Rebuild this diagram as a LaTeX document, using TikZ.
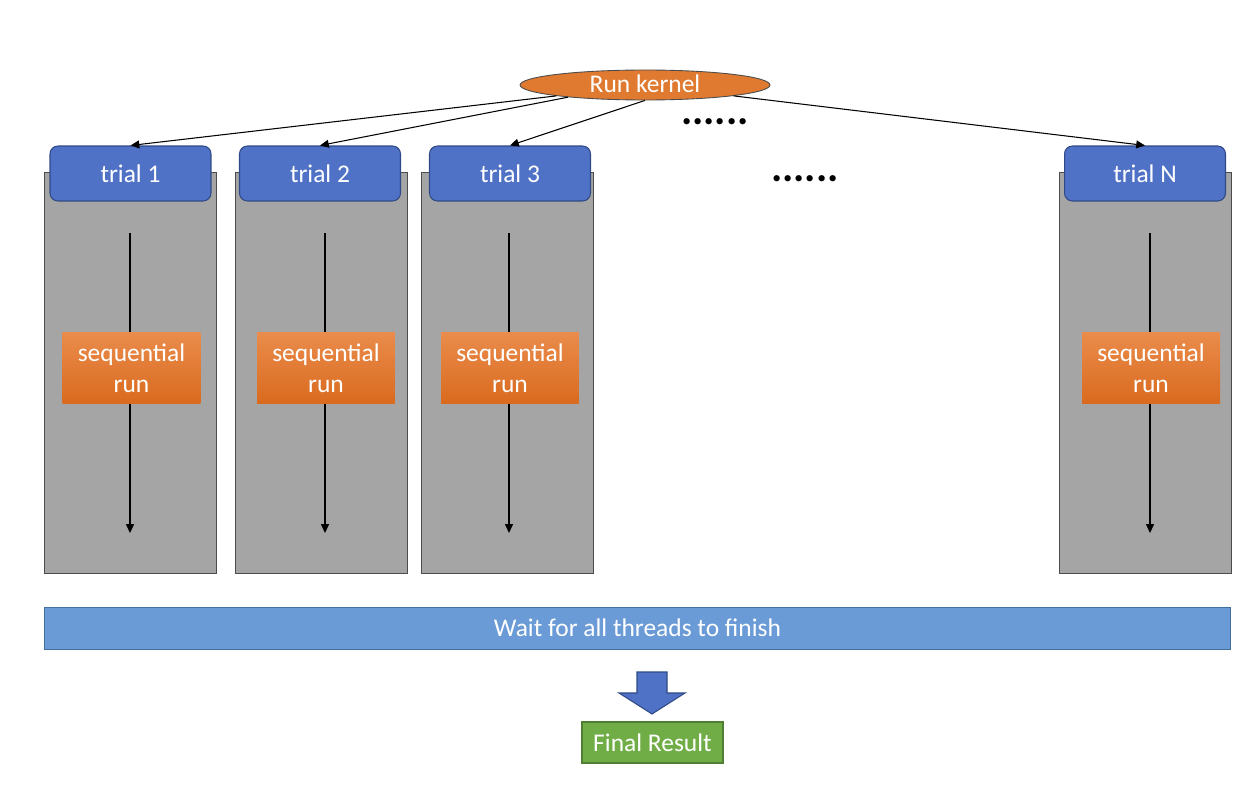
\documentclass[tikz,border=0pt]{standalone}
\usepackage{fontspec}
\setmainfont{Carlito}
\usetikzlibrary{arrows.meta, positioning, shapes.geometric}
\definecolor{trialblue}{HTML}{4F71C6}
\definecolor{trialedge}{HTML}{2F4A86}
\definecolor{kernelorange}{HTML}{E07A30}
\definecolor{seqtop}{HTML}{EA8C4C}
\definecolor{seqbot}{HTML}{D96A1E}
\definecolor{colgray}{HTML}{A5A5A5}
\definecolor{waitblue}{HTML}{6A9BD6}
\definecolor{waitedge}{HTML}{41719C}
\definecolor{finalgreen}{HTML}{70AD47}
\definecolor{finaledge}{HTML}{507E32}

\begin{document}
\begin{tikzpicture}[
  x=0.02cm, y=-0.02cm,
  column/.style={draw=black!70, fill=colgray, line width=0.5pt,
                 minimum width=3.44cm, minimum height=8.02cm},
  trial/.style={draw=trialedge, fill=trialblue, rounded corners=4.5pt, line width=0.6pt,
                minimum width=3.22cm, minimum height=1.1cm, text=white,
                font=\fontsize{14.5}{16}\selectfont},
  seqbox/.style={top color=seqtop, bottom color=seqbot, minimum width=2.76cm,
                 minimum height=1.44cm, text=white, align=center,
                 font=\fontsize{14.5}{17.5}\selectfont},
  arr/.style={-{Triangle[length=5pt, width=4.5pt]}, line width=0.6pt}
]
  \useasboundingbox (0,0) rectangle (1251,794);

  % Kernel
  \node[ellipse, draw=black!70, fill=kernelorange, line width=0.5pt, inner sep=0pt,
        minimum width=5cm, minimum height=0.6cm, text height=10pt, text depth=1pt,
        text=white, font=\fontsize{14.5}{16}\selectfont] (kernel) at (645,85) {Run kernel};

  % Columns
  \node[column] (col1) at (130,372.5) {};
  \node[column] (col2) at (321,372.5) {};
  \node[column] (col3) at (507.5,372.5) {};
  \node[column] (colN) at (1145.5,372.5) {};

  % Trials
  \node[trial] (trial1) at (130.5,173.5) {trial 1};
  \node[trial] (trial2) at (320,173.5) {trial 2};
  \node[trial] (trial3) at (510,173.5) {trial 3};
  \node[trial] (trialN) at (1145,173.5) {trial N};

  % Dots
  \node[anchor=base, font=\fontsize{24}{24}\bfseries] (dots1) at (715,125) {......};
  \node[anchor=base, font=\fontsize{24}{24}\bfseries] (dots2) at (805,181) {......};

  % Flow inside columns
  \coordinate (run1top) at (130,233);  \coordinate (run1end) at (130,533);
  \coordinate (run2top) at (325,233);  \coordinate (run2end) at (325,533);
  \coordinate (run3top) at (509,233);  \coordinate (run3end) at (509,533);
  \coordinate (runNtop) at (1150,233); \coordinate (runNend) at (1150,533);
  \draw[arr] (run1top) -- (run1end);
  \draw[arr] (run2top) -- (run2end);
  \draw[arr] (run3top) -- (run3end);
  \draw[arr] (runNtop) -- (runNend);

  \node[seqbox] (seq1) at (131.5,368) {sequential\\run};
  \node[seqbox] (seq2) at (326,368) {sequential\\run};
  \node[seqbox] (seq3) at (510,368) {sequential\\run};
  \node[seqbox] (seqN) at (1151,368) {sequential\\run};

  % Kernel to trials
  \draw[arr] (kernel.187) -- (trial1.north);
  \draw[arr] (kernel.189) -- (trial2.north);
  \draw[arr] (kernel.south) -- (trial3.north);
  \draw[arr] (kernel.353) -- (trialN.north);

  % Wait and result
  \node[draw=waitedge, fill=waitblue, line width=0.5pt, minimum width=23.74cm,
        minimum height=0.84cm, text=white, font=\fontsize{14.5}{16}\selectfont]
    (wait) at (637.5,628) {Wait for all threads to finish};
  \draw[draw=trialedge, fill=trialblue, line width=0.6pt]
    (637,672) -- (667,672) -- (667,693) -- (685,693) -- (652,714)
    -- (619,693) -- (637,693) -- cycle;
  \node[draw=finaledge, fill=finalgreen, line width=0.6pt, minimum width=2.82cm,
        minimum height=0.82cm, text=white, font=\fontsize{14.5}{16}\selectfont]
    (final) at (652.5,742.5) {Final Result};
\end{tikzpicture}
\end{document}
